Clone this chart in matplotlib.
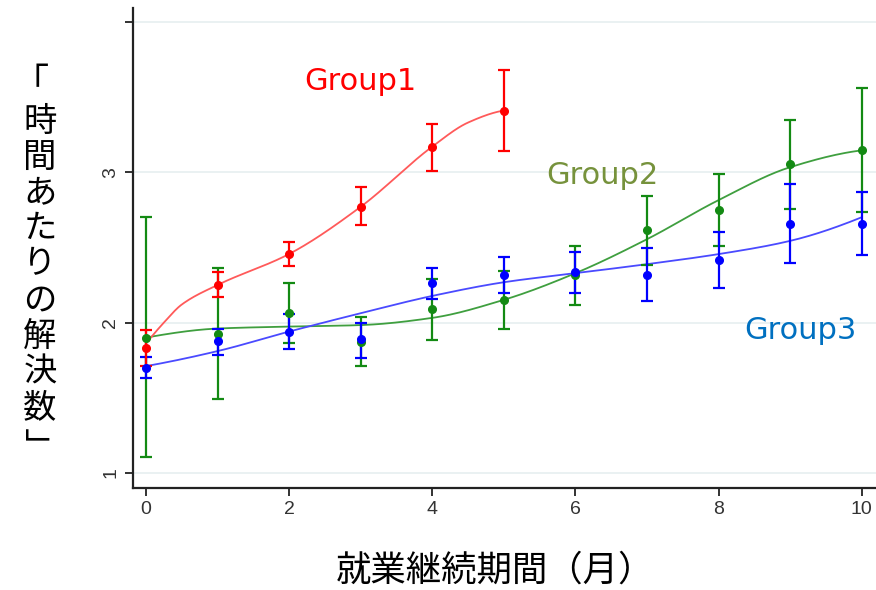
import numpy as np
import matplotlib.pyplot as plt

# months on the job
months = np.arange(11)

# Group1: mean, lower / upper ends of the error bars (months 0-5)
g1_mean = [1.83, 2.25, 2.456, 2.77, 3.17, 3.41]
g1_low = [1.71, 2.17, 2.377, 2.65, 3.01, 3.14]
g1_high = [1.947, 2.335, 2.536, 2.90, 3.32, 3.68]

# Group2 (months 0-10)
g2_mean = [1.90, 1.925, 2.064, 1.872, 2.089, 2.151, 2.317, 2.614, 2.749, 3.054, 3.145]
g2_low = [1.105, 1.49, 1.867, 1.708, 1.887, 1.96, 2.116, 2.381, 2.512, 2.755, 2.733]
g2_high = [2.70, 2.365, 2.264, 2.038, 2.29, 2.342, 2.512, 2.844, 2.99, 3.349, 3.56]

# Group3 (months 0-10)
g3_mean = [1.70, 1.875, 1.938, 1.89, 2.26, 2.317, 2.335, 2.315, 2.417, 2.658, 2.658]
g3_low = [1.63, 1.785, 1.825, 1.767, 2.155, 2.195, 2.195, 2.14, 2.228, 2.399, 2.452]
g3_high = [1.77, 1.96, 2.056, 1.998, 2.36, 2.434, 2.472, 2.494, 2.605, 2.92, 2.868]

# smoothed trend lines (knot positions and values)
g1_fit_x = [0, 0.25, 0.5, 1, 2, 3, 4, 4.5, 5]
g1_fit = [1.86, 2.00, 2.12, 2.25, 2.456, 2.77, 3.17, 3.33, 3.41]
g2_fit_x = list(range(11))
g2_fit = [1.90, 1.96, 1.973, 1.983, 2.031, 2.151, 2.328, 2.554, 2.814, 3.033, 3.145]
g3_fit_x = list(range(11))
g3_fit = [1.71, 1.81, 1.94, 2.062, 2.177, 2.268, 2.328, 2.388, 2.455, 2.543, 2.70]

group_names = ["Group1", "Group2", "Group3"]
xlabel = "就業継続期間（月）"
ylabel = "「時間あたりの解決数」"


def pchip(x, y, xs):
    # monotone piecewise cubic (Fritsch-Carlson)
    x = np.asarray(x, float)
    y = np.asarray(y, float)
    n = len(x)
    h = np.diff(x)
    delta = np.diff(y) / h
    d = np.zeros(n)
    for k in range(1, n - 1):
        if delta[k - 1] * delta[k] > 0:
            w1 = 2 * h[k] + h[k - 1]
            w2 = h[k] + 2 * h[k - 1]
            d[k] = (w1 + w2) / (w1 / delta[k - 1] + w2 / delta[k])

    def end_slope(h0, h1, d0, d1):
        s = ((2 * h0 + h1) * d0 - h0 * d1) / (h0 + h1)
        if np.sign(s) != np.sign(d0):
            return 0.0
        if np.sign(d0) != np.sign(d1) and abs(s) > 3 * abs(d0):
            return 3 * d0
        return s

    d[0] = end_slope(h[0], h[1], delta[0], delta[1])
    d[-1] = end_slope(h[-1], h[-2], delta[-1], delta[-2])
    idx = np.clip(np.searchsorted(x, xs) - 1, 0, n - 2)
    t = (xs - x[idx]) / h[idx]
    h00 = 2 * t**3 - 3 * t**2 + 1
    h10 = t**3 - 2 * t**2 + t
    h01 = -2 * t**3 + 3 * t**2
    h11 = t**3 - t**2
    return (h00 * y[idx] + h10 * h[idx] * d[idx] + h01 * y[idx + 1]
            + h11 * h[idx] * d[idx + 1])


fig = plt.figure(figsize=(8.76, 5.9), dpi=100)
ax = fig.add_axes([0.152, 0.173, 0.848, 0.813])

series = [
    (months[:6], g1_mean, g1_low, g1_high, g1_fit_x, g1_fit, "#ff0000", "#ff5a5a"),
    (months, g2_mean, g2_low, g2_high, g2_fit_x, g2_fit, "#138a13", "#3f9f3f"),
    (months, g3_mean, g3_low, g3_high, g3_fit_x, g3_fit, "#0000ff", "#4a4aff"),
]
for k in [1, 2, 0]:
    x, m, lo, hi, fx, fy, col, fcol = series[k]
    m = np.asarray(m)
    err = [m - np.asarray(lo), np.asarray(hi) - m]
    xs = np.linspace(fx[0], fx[-1], 300)
    ax.plot(xs, pchip(fx, fy, xs), color=fcol, lw=1.3, zorder=2)
    ax.errorbar(x, m, yerr=err, fmt="o", color=col, ms=5.5, elinewidth=1.6,
                capsize=4.5, capthick=1.6, zorder=3)

label_font = dict(fontsize=22, family="DejaVu Sans", ha="center", va="center")
ax.text(3.0, 3.6, group_names[0], color="#ff0000", **label_font)
ax.text(6.38, 2.98, group_names[1], color="#76923c", **label_font)
ax.text(9.15, 1.95, group_names[2], color="#0070c0", **label_font)

ax.set_xlim(-0.18, 10.2)
ax.set_ylim(0.9, 4.09)
ax.set_xticks([0, 2, 4, 6, 8, 10])
ax.set_yticks([1, 2, 3, 4])
ax.set_yticklabels(["1", "2", "3", ""])
ax.grid(axis="y", color="#e6eff0", lw=1.2, zorder=0)
ax.set_axisbelow(True)

for s in ["top", "right"]:
    ax.spines[s].set_visible(False)
for s in ["left", "bottom"]:
    ax.spines[s].set_linewidth(1.6)
    ax.spines[s].set_color("#222222")

tick_font = ["Liberation Sans Narrow", "Liberation Sans", "DejaVu Sans"]
ax.tick_params(axis="both", length=6, width=1.3, color="#222222",
               labelcolor="#333333", labelsize=14)
ax.tick_params(axis="y", labelrotation=90, pad=4)
for lab in ax.get_xticklabels() + ax.get_yticklabels():
    lab.set_family(tick_font)
for lab in ax.get_yticklabels():
    lab.set_va("center")

jp_font = ["Noto Sans CJK JP", "DejaVu Sans"]
fig.text(495 / 876, 1 - 571 / 590, xlabel, fontsize=25.5, family=jp_font,
         ha="center", va="center")

# y label written top to bottom, one character per row
row_y = [84, 122, 157, 193, 228, 264, 300, 336, 372, 408, 446]
for i, ch in enumerate(ylabel):
    if i == 0:
        fig.text(31 / 876, 1 - row_y[i] / 590, ch, fontsize=26, family=jp_font,
                 ha="center", va="center")
    elif i == len(ylabel) - 1:
        fig.text(37 / 876, 1 - row_y[i] / 590, ch, fontsize=26, family=jp_font,
                 ha="center", va="center", rotation=-90)
    else:
        fig.text(40 / 876, 1 - row_y[i] / 590, ch, fontsize=24, family=jp_font,
                 ha="center", va="center")

fig.savefig("out.png", dpi=100)
